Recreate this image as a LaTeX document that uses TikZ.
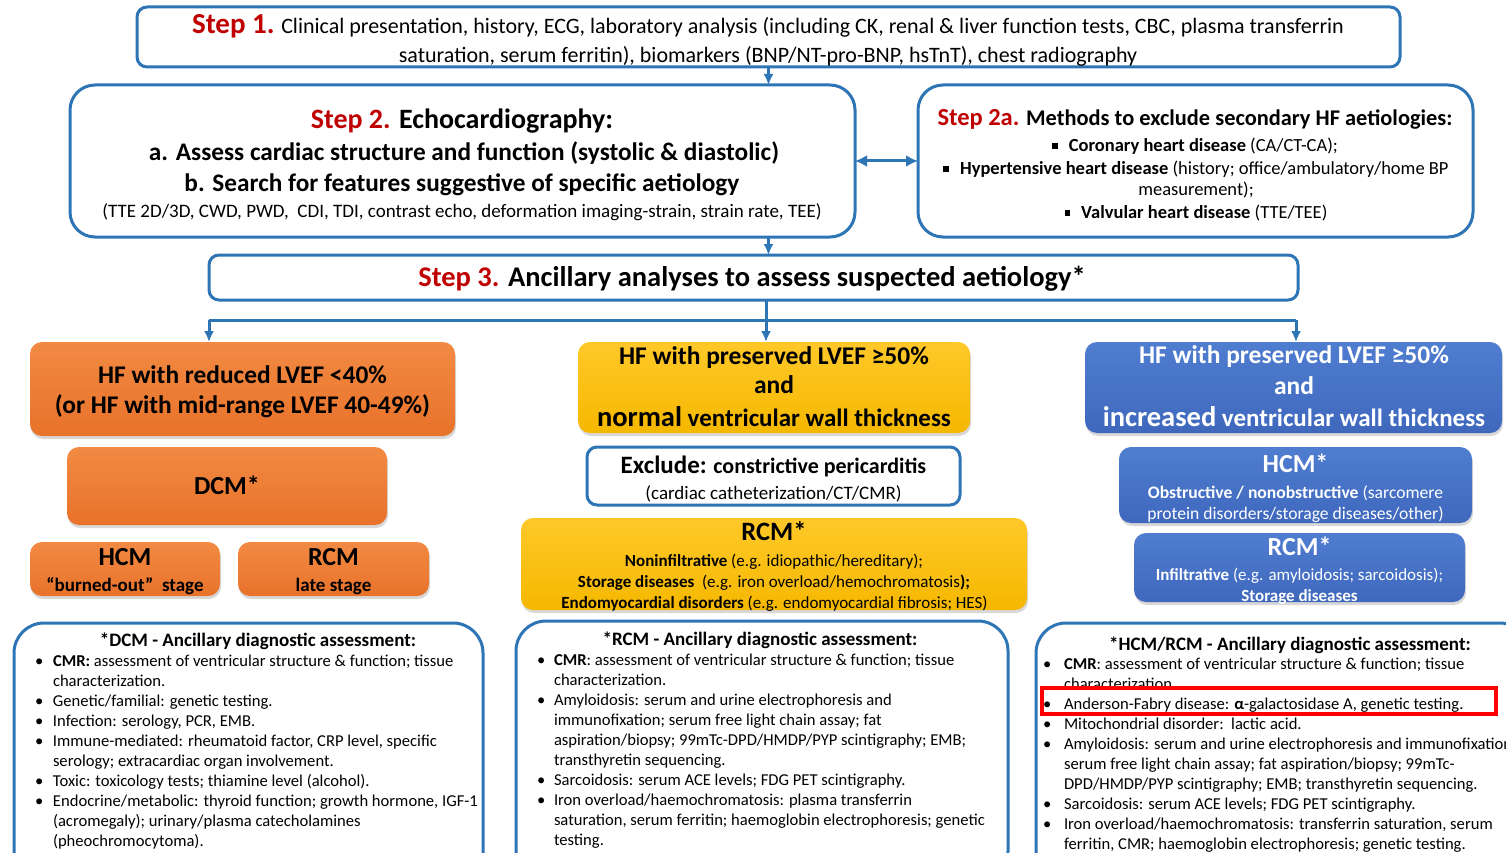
\documentclass[tikz,border=0pt]{standalone}
\usepackage{fontspec}
\setmainfont{Carlito}
\usetikzlibrary{arrows.meta,shadows}
\definecolor{bordblue}{HTML}{2E75B6}
\definecolor{stepred}{HTML}{C00000}
\definecolor{orTop}{HTML}{F28A43}
\definecolor{orBot}{HTML}{E8722A}
\definecolor{ylTop}{HTML}{FFC829}
\definecolor{ylBot}{HTML}{F5B800}
\definecolor{blTop}{HTML}{4F7DD0}
\definecolor{blBot}{HTML}{3F68BD}
\newcommand\fs[2]{\fontsize{#1}{#2}\selectfont}
\newcommand\sqb{\raisebox{0.18em}{\rule{0.3em}{0.3em}}\hspace{0.6em}}
\begin{document}
\begin{tikzpicture}[x=1pt,y=-1pt,
  every node/.style={inner sep=0pt,outer sep=0pt},
  bbox/.style={draw=bordblue,line width=3pt,fill=white,rounded corners=#1},
  bbox/.default=10pt,
  colbox/.style={rounded corners=12pt,drop shadow={opacity=0.3,shadow xshift=1pt,shadow yshift=-3pt}},
  orbox/.style={colbox,top color=orTop,bottom color=orBot},
  ylbox/.style={colbox,top color=ylTop,bottom color=ylBot},
  blbox/.style={colbox,top color=blTop,bottom color=blBot},
  txt/.style={anchor=mid,yshift=-6.5pt},
  arr/.style={draw=bordblue,line width=3pt,-{Latex[length=11pt,width=10pt]}},
  darr/.style={draw=bordblue,line width=3pt,{Latex[length=12pt,width=12pt]}-{Latex[length=12pt,width=12pt]}},
  conn/.style={draw=bordblue,line width=3pt},
  list/.style={anchor=base west,align=left,font=\fs{16.6}{20}}
]
\useasboundingbox (0,0) rectangle (1506,853);
\clip (0,0) rectangle (1506,853);
\fill[white] (0,0) rectangle (1506,853);

% ---------- Step 1
\node[bbox,minimum width=1263pt,minimum height=60pt] (step1) at (768.5,37) {};
\node[txt,font=\fs{22}{26}] (s1a) at (768,25) {{\color{stepred}\bfseries\fs{29}{30}Step 1.} Clinical presentation, history, ECG, laboratory analysis (including CK, renal \& liver function tests, CBC, plasma transferrin};
\node[txt,font=\fs{22}{26}] (s1b) at (768,54) {saturation, serum ferritin), biomarkers (BNP/NT-pro-BNP, hsTnT), chest radiography};

% ---------- Step 2
\node[bbox=25pt,minimum width=785pt,minimum height=152pt] (step2) at (462.5,161) {};
\node[txt,font=\bfseries\fs{28}{30}] (s2a) at (462,120) {\textcolor{stepred}{Step 2.} Echocardiography:};
\node[txt,font=\bfseries\fs{25.3}{28}] (s2b) at (464,152) {a. Assess cardiac structure and function (systolic \& diastolic)};
\node[txt,font=\bfseries\fs{25.3}{28}] (s2c) at (462,183) {b. Search for features suggestive of specific aetiology};
\node[txt,font=\fs{19}{22}] (s2d) at (462,209) {(TTE 2D/3D, CWD, PWD,\ \ CDI, TDI, contrast echo, deformation imaging-strain, strain rate, TEE)};

% ---------- Step 2a
\node[bbox=25pt,minimum width=555pt,minimum height=152pt] (step2a) at (1195.5,161) {};
\node[txt,font=\bfseries\fs{22.4}{26}] (s2aa) at (1195,117) {\textcolor{stepred}{\fs{24.5}{26}Step 2a.} Methods to exclude secondary HF aetiologies:};
\node[txt,font=\fs{18.5}{22}] (s2ab) at (1195,143) {\sqb\textbf{Coronary heart disease} (CA/CT-CA);};
\node[txt,font=\fs{18.5}{22}] (s2ac) at (1196,166) {\sqb\textbf{Hypertensive heart disease} (history; office/ambulatory/home BP};
\node[txt,font=\fs{18.5}{22}] (s2ad) at (1196,187) {measurement);};
\node[txt,font=\fs{18.5}{22}] (s2ae) at (1196,210) {\sqb\textbf{Valvular heart disease} (TTE/TEE)};

% ---------- Step 3
\node[bbox,minimum width=1089pt,minimum height=45pt] (step3) at (753.5,277.5) {};
\node[txt,font=\bfseries\fs{28.5}{30}] (s3t) at (752,278) {\textcolor{stepred}{Step 3.} Ancillary analyses to assess suspected aetiology*};

% ---------- left column (orange)
\node[orbox,minimum width=425pt,minimum height=94pt] (hfr) at (242.5,389) {};
\node[txt,font=\bfseries\fs{25.4}{30}] (hfra) at (242.5,375) {HF with reduced LVEF <40\%};
\node[txt,font=\bfseries\fs{25.4}{30}] (hfrb) at (242.5,405) {(or HF with mid-range LVEF 40-49\%)};
\node[orbox,minimum width=320pt,minimum height=78pt] (dcm) at (227,486) {};
\node[txt,font=\bfseries\fs{26}{28}] (dcmt) at (227,486) {DCM*};
\node[orbox,minimum width=190pt,minimum height=54pt] (hcml) at (125,569) {};
\node[txt,font=\bfseries\fs{26}{28}] (hcmlt) at (125,557) {HCM};
\node[txt,font=\bfseries\fs{19}{22}] (hcmls) at (125,583) {“burned-out”\ \ stage};
\node[orbox,minimum width=191pt,minimum height=54pt] (rcml) at (333.5,569) {};
\node[txt,font=\bfseries\fs{26}{28}] (rcmlt) at (333.5,557) {RCM};
\node[txt,font=\bfseries\fs{19}{22}] (rcmls) at (333.5,583) {late stage};

% ---------- middle column (yellow)
\node[ylbox,minimum width=392pt,minimum height=91pt] (hfp) at (774,387.5) {};
\node[txt,font=\bfseries\fs{25.5}{28}] (hfpa) at (774,356) {HF with preserved LVEF ≥50\%};
\node[txt,font=\bfseries\fs{25.5}{28}] (hfpb) at (774,385) {and};
\node[txt,font=\bfseries\fs{25}{28}] (hfpc) at (774,418) {{\fs{28.5}{30}normal} ventricular wall thickness};
\node[bbox,minimum width=373pt,minimum height=58pt] (excl) at (773.5,476) {};
\node[txt,font=\bfseries\fs{22}{26}] (excla) at (773.5,465) {{\fs{25}{28}Exclude:} constrictive pericarditis};
\node[txt,font=\fs{19}{22}] (exclb) at (773.5,491) {(cardiac catheterization/CT/CMR)};
\node[ylbox,minimum width=506pt,minimum height=92pt] (rcmy) at (774,564) {};
\node[txt,font=\bfseries\fs{26.5}{28}] (rcmya) at (774,532) {RCM*};
\node[txt,font=\fs{17}{20}] (rcmyb) at (774,558) {\textbf{Noninfiltrative} (e.g. idiopathic/hereditary);};
\node[txt,font=\fs{17}{20}] (rcmyc) at (774,579) {\textbf{Storage diseases}\ \ (e.g. iron overload/hemochromatosis\textbf{);}};
\node[txt,font=\fs{17}{20}] (rcmyd) at (774.5,600) {\textbf{Endomyocardial disorders} (e.g. endomyocardial fibrosis; HES)};

% ---------- right column (blue)
\node[blbox,minimum width=417pt,minimum height=91pt] (hfi) at (1293.5,387.5) {};
\node[txt,text=white,font=\bfseries\fs{25.5}{28}] (hfia) at (1294,355) {HF with preserved LVEF ≥50\%};
\node[txt,text=white,font=\bfseries\fs{25.5}{28}] (hfib) at (1294,386) {and};
\node[txt,text=white,font=\bfseries\fs{25}{28}] (hfic) at (1294,418) {{\fs{28.5}{30}increased} ventricular wall thickness};
\node[blbox,minimum width=353pt,minimum height=76pt] (hcmb) at (1295.5,485) {};
\node[txt,text=white,font=\bfseries\fs{26}{28}] (hcmba) at (1295.5,464) {HCM*};
\node[txt,text=white,font=\fs{17.6}{20}] (hcmbb) at (1295.5,490) {\textbf{Obstructive / nonobstructive} (sarcomere};
\node[txt,text=white,font=\fs{17.6}{20}] (hcmbc) at (1295.5,511) {protein disorders/storage diseases/other)};
\node[blbox,minimum width=331pt,minimum height=69pt] (rcmb) at (1299.5,567.5) {};
\node[txt,text=white,font=\bfseries\fs{26}{28}] (rcmba) at (1299.5,547) {RCM*};
\node[txt,text=white,font=\fs{17}{20}] (rcmbb) at (1299.5,572) {\textbf{Infiltrative} (e.g. amyloidosis; sarcoidosis);};
\node[txt,text=white,font=\fs{17}{20}] (rcmbc) at (1299.5,593) {\textbf{Storage diseases}};

% ---------- bottom assessment boxes
\node[bbox=30pt,minimum width=469pt,minimum height=260pt] (as1) at (248.5,753) {};
\node[txt,font=\bfseries\fs{19}{22}] (as1t) at (258,638) {*DCM - Ancillary diagnostic assessment:};
\node[list] (as1l) at (35,666) {\begin{tabular}[t]{@{}p{18pt}@{}l@{}}
\textbullet & \textbf{CMR:} assessment of ventricular structure \& function; tissue\\
 & characterization.\\
\textbullet & Genetic/familial: genetic testing.\\
\textbullet & Infection: serology, PCR, EMB.\\
\textbullet & Immune-mediated: rheumatoid factor, CRP level, specific\\
 & serology; extracardiac organ involvement.\\
\textbullet & Toxic: toxicology tests; thiamine level (alcohol).\\
\textbullet & Endocrine/metabolic: thyroid function; growth hormone, IGF-1\\
 & (acromegaly); urinary/plasma catecholamines\\
 & (pheochromocytoma).
\end{tabular}};

\node[bbox=30pt,minimum width=492pt,minimum height=260pt] (as2) at (762,751) {};
\node[txt,font=\bfseries\fs{19}{22}] (as2t) at (760,637) {*RCM - Ancillary diagnostic assessment:};
\node[list] (as2l) at (537,665) {\begin{tabular}[t]{@{}p{17pt}@{}l@{}}
\textbullet & \textbf{CMR}: assessment of ventricular structure \& function; tissue\\
 & characterization.\\
\textbullet & Amyloidosis: serum and urine electrophoresis and\\
 & immunofixation; serum free light chain assay; fat\\
 & aspiration/biopsy; 99mTc-DPD/HMDP/PYP scintigraphy; EMB;\\
 & transthyretin sequencing.\\
\textbullet & Sarcoidosis: serum ACE levels; FDG PET scintigraphy.\\
\textbullet & Iron overload/haemochromatosis: plasma transferrin\\
 & saturation, serum ferritin; haemoglobin electrophoresis; genetic\\
 & testing.
\end{tabular}};

\node[bbox=30pt,minimum width=494pt,minimum height=260pt] (as3) at (1283,753) {};
\node[txt,font=\bfseries\fs{19}{22}] (as3t) at (1290,642) {*HCM/RCM - Ancillary diagnostic assessment:};
\node[list] (as3l) at (1043,669) {\begin{tabular}[t]{@{}p{21pt}@{}l@{}}
\textbullet & \textbf{CMR}: assessment of ventricular structure \& function; tissue\\
 & characterization.\\
\textbullet & Anderson-Fabry disease: \textbf{α}-galactosidase A, genetic testing.\\
\textbullet & Mitochondrial disorder:\ \ lactic acid.\\
\textbullet & Amyloidosis: serum and urine electrophoresis and immunofixation;\\
 & serum free light chain assay; fat aspiration/biopsy; 99mTc-\\
 & DPD/HMDP/PYP scintigraphy; EMB; transthyretin sequencing.\\
\textbullet & Sarcoidosis: serum ACE levels; FDG PET scintigraphy.\\
\textbullet & Iron overload/haemochromatosis: transferrin saturation, serum\\
 & ferritin, CMR; haemoglobin electrophoresis; genetic testing.
\end{tabular}};
\node[draw=red,line width=3.5pt,minimum width=454pt,minimum height=26pt] (hl) at (1269,701) {};

% ---------- connectors
\draw[arr] (step1.south) -- (step1.south |- step2.north);
\draw[darr] (step2.east) -- (step2a.west);
\draw[arr] (step1.south |- step2.south) -- (step1.south |- step3.north);
\coordinate (jm) at (766,320);
\coordinate (jl) at (209,320);
\coordinate (jr) at (1296,320);
\draw[conn] (jm |- step3.south) -- (jm);
\draw[conn] (jl) -- (jr);
\draw[arr] (jl) -- (jl |- hfr.north);
\draw[arr] (jm) -- (jm |- hfp.north);
\draw[arr] (jr) -- (jr |- hfi.north);
\end{tikzpicture}
\end{document}
